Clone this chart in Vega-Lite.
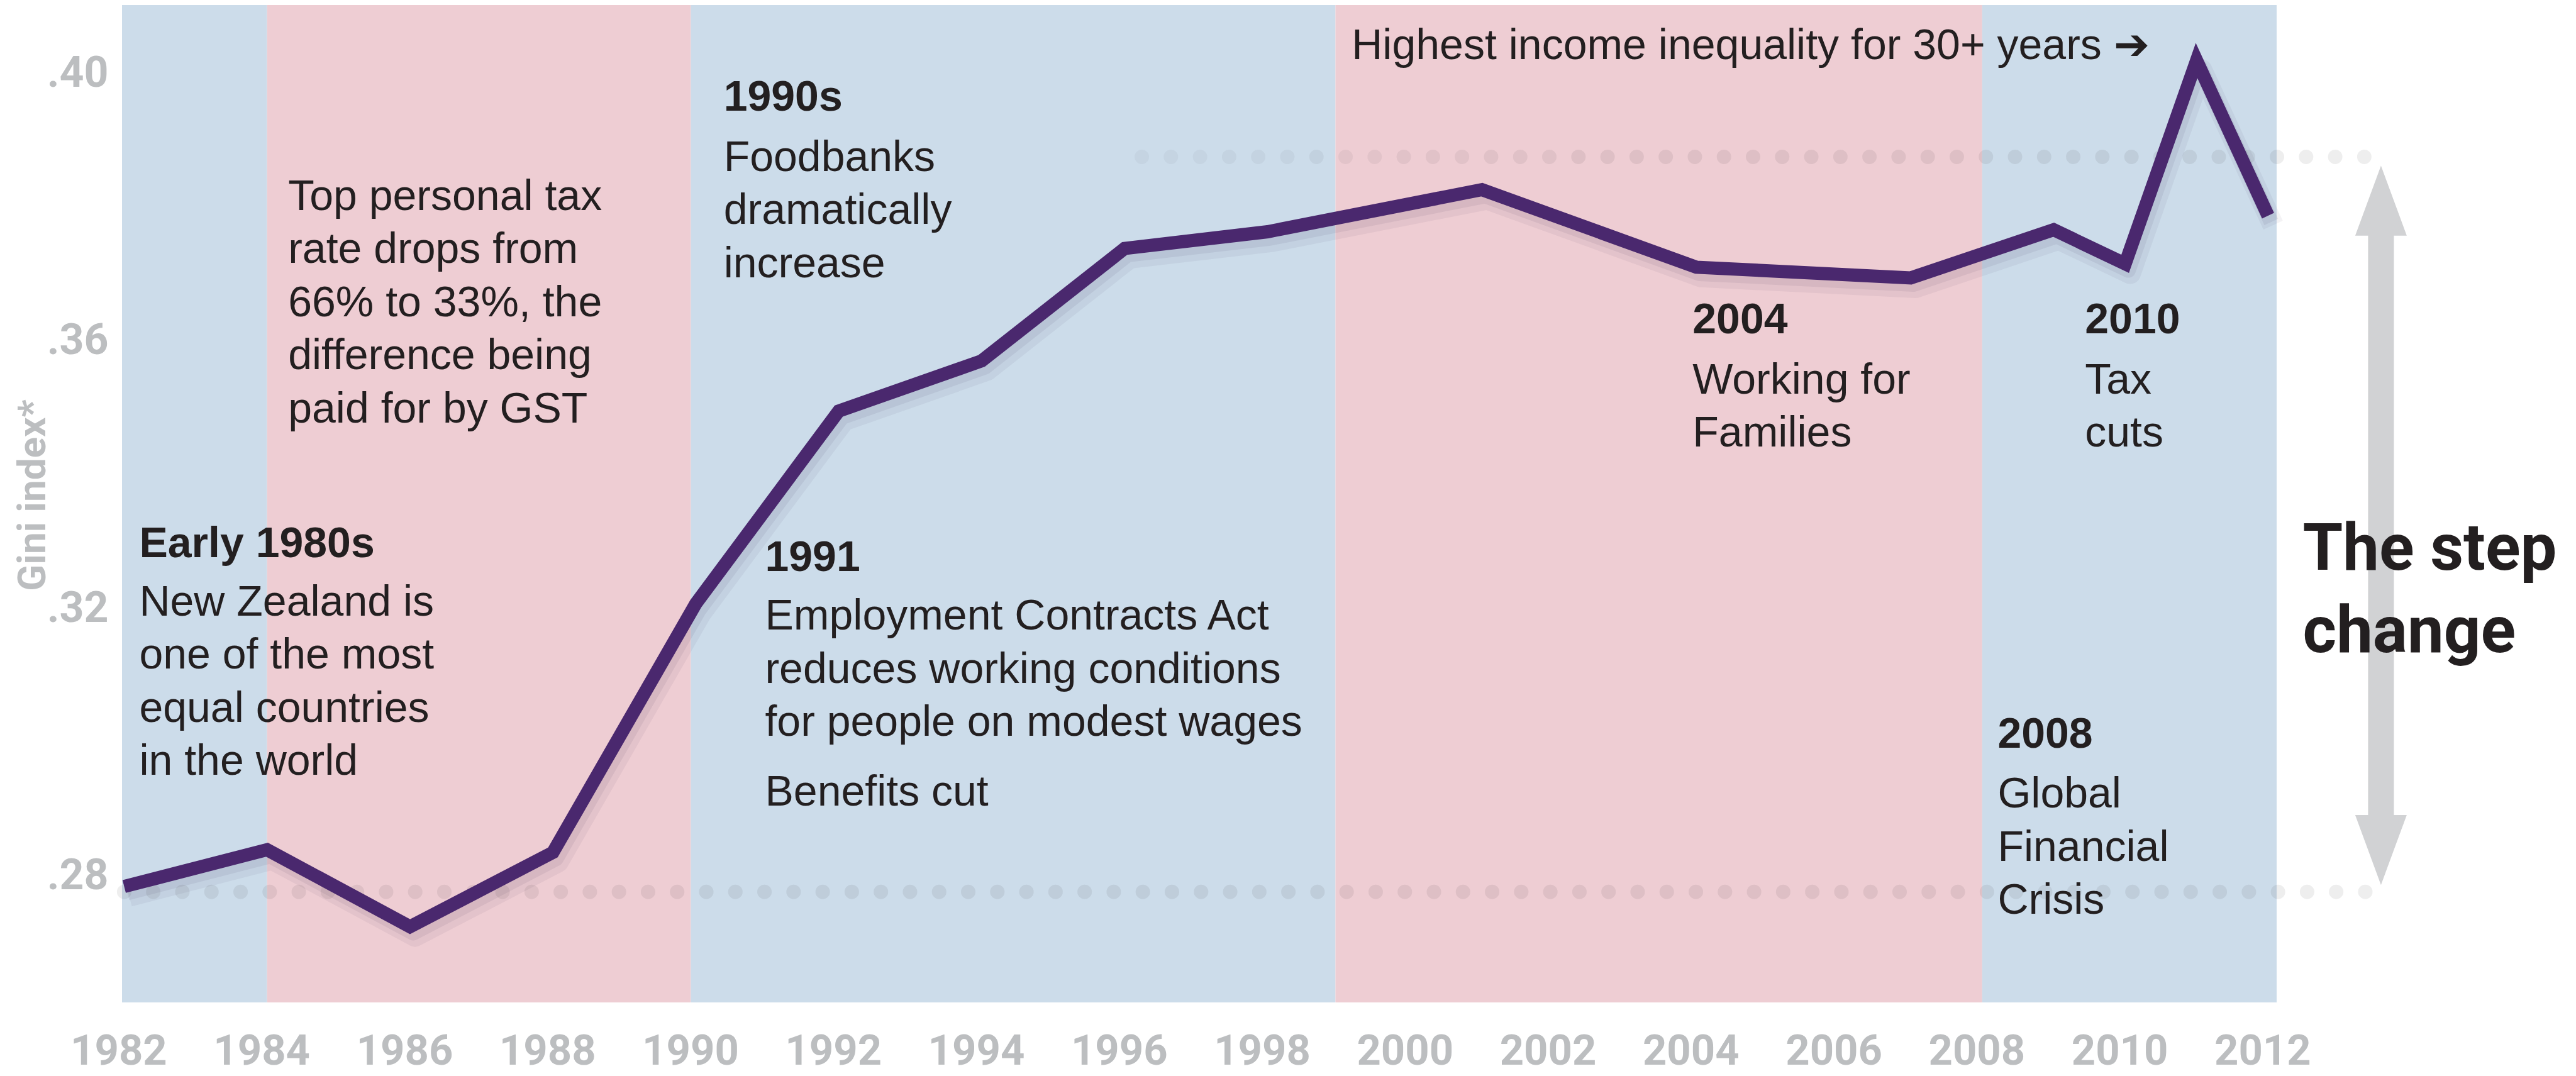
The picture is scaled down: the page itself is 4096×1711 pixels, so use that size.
{
  "$schema": "https://vega.github.io/schema/vega-lite/v6.json",
  "width": 3426,
  "height": 1586,
  "autosize": {"type": "none"},
  "padding": {"left": 194, "top": 8, "right": 476, "bottom": 117},
  "background": "white",
  "config": {"view": {"stroke": null}},
  "datasets": {
    "bands": [
      {"start": 1981.97, "end": 1984, "govt": "National"},
      {"start": 1984, "end": 1989.93, "govt": "Labour"},
      {"start": 1989.93, "end": 1998.95, "govt": "National"},
      {"start": 1998.95, "end": 2008, "govt": "Labour"},
      {"start": 2008, "end": 2012.12, "govt": "National"}
    ],
    "gini": [
      {"year": 1982, "gini": 0.2785},
      {"year": 1984, "gini": 0.2840},
      {"year": 1986, "gini": 0.2725},
      {"year": 1988, "gini": 0.2836},
      {"year": 1990, "gini": 0.3208},
      {"year": 1992, "gini": 0.3496},
      {"year": 1994, "gini": 0.3571},
      {"year": 1996, "gini": 0.3739},
      {"year": 1998, "gini": 0.3764},
      {"year": 2001, "gini": 0.3827},
      {"year": 2004, "gini": 0.3711},
      {"year": 2007, "gini": 0.3695},
      {"year": 2009, "gini": 0.3767},
      {"year": 2010, "gini": 0.3716},
      {"year": 2011, "gini": 0.4020},
      {"year": 2012, "gini": 0.3788}
    ],
    "dots": [
      {"from": 1982, "to": 2013.487, "level": 0.2777, "part": "full"},
      {"from": 1996.240, "to": 1997.457, "level": 0.3876, "part": "f1"},
      {"from": 1997.462, "to": 1998.679, "level": 0.3876, "part": "f2"},
      {"from": 1998.684, "to": 1999.901, "level": 0.3876, "part": "f3"},
      {"from": 1999.906, "to": 2001.123, "level": 0.3876, "part": "f4"},
      {"from": 2001.128, "to": 2002.345, "level": 0.3876, "part": "f5"},
      {"from": 2002.350, "to": 2013.487, "level": 0.3876, "part": "full"}
    ],
    "shaft": [{"x": 2013.58, "top": 0.3810, "bottom": 0.2840}],
    "heads": [
      {"x": 2013.58, "y": 0.38105, "dir": "up"},
      {"x": 2013.58, "y": 0.28397, "dir": "down"}
    ],
    "headings": [
      {"x": 1982.211, "y": 0.32778, "text": "Early 1980s"},
      {"x": 1990.389, "y": 0.39448, "text": "1990s"},
      {"x": 1990.968, "y": 0.32569, "text": "1991"},
      {"x": 2003.947, "y": 0.36117, "text": "2004"},
      {"x": 2009.438, "y": 0.36117, "text": "2010"},
      {"x": 2008.216, "y": 0.29925, "text": "2008"}
    ],
    "notes": [
      {"x": 1984.295, "y": 0.37967, "text": "Top personal tax\nrate drops from\n66% to 33%, the\ndifference being\npaid for by GST"},
      {"x": 1982.211, "y": 0.31900, "text": "New Zealand is\none of the most\nequal countries\nin the world"},
      {"x": 1990.389, "y": 0.38552, "text": "Foodbanks\ndramatically\nincrease"},
      {"x": 1990.968, "y": 0.31690, "text": "Employment Contracts Act\nreduces working conditions\nfor people on modest wages"},
      {"x": 1990.968, "y": 0.29063, "text": "Benefits cut"},
      {"x": 2003.947, "y": 0.35222, "text": "Working for\nFamilies"},
      {"x": 2009.438, "y": 0.35222, "text": "Tax\ncuts"},
      {"x": 2008.216, "y": 0.29029, "text": "Global\nFinancial\nCrisis"},
      {"x": 1999.177, "y": 0.40226, "text": "Highest income inequality for 30+ years ➔"}
    ],
    "big": [
      {"x": 2012.485, "y": 0.32586, "text": "The step\nchange"}
    ]
  },
  "layer": [
    {
      "data": {"name": "bands"},
      "mark": {"type": "rect"},
      "encoding": {
        "x": {"field": "start", "type": "quantitative",
          "scale": {"domain": [1981.97, 2012.12], "nice": false, "zero": false},
          "axis": {
            "values": [1982, 1984, 1986, 1988, 1990, 1992, 1994, 1996, 1998, 2000, 2002, 2004, 2006, 2008, 2010, 2012],
            "format": "d", "title": null, "domain": false, "ticks": false, "tickSize": 0, "grid": false,
            "labelFont": "Roboto, sans-serif",
            "labelFontSize": 67, "labelFontWeight": "bold", "labelColor": "#bcbec0",
            "labelPadding": 98, "labelBaseline": "alphabetic", "labelOffset": -9, "labelLimit": 0,
            "labelFlush": false, "labelOverlap": false, "labelBound": false
          }
        },
        "x2": {"field": "end"},
        "color": {"field": "govt", "type": "nominal",
          "scale": {"domain": ["National", "Labour"], "range": ["#ccdcea", "#eecdd3"]},
          "legend": null}
      }
    },
    {
      "data": {"name": "dots"},
      "mark": {"type": "rule", "color": "#262628", "strokeWidth": 23, "strokeCap": "round", "strokeDash": [0.01, 46.27]},
      "encoding": {
        "x": {"field": "from", "type": "quantitative", "scale": {"domain": [1981.97, 2012.12], "nice": false, "zero": false}},
        "x2": {"field": "to"},
        "y": {"field": "level", "type": "quantitative",
          "scale": {"domain": [0.26117, 0.4103], "nice": false, "zero": false},
          "axis": {
            "values": [0.28, 0.32, 0.36, 0.40],
            "labelExpr": "replace(format(datum.value, '.2f'), '0.', '.')",
            "domain": false, "ticks": false, "tickSize": 0, "grid": false,
            "labelFont": "Roboto, sans-serif", "labelLimit": 0,
            "labelFontSize": 68, "labelFontWeight": "bold", "labelColor": "#bcbec0",
            "labelPadding": 22, "labelBaseline": "middle",
            "title": "Gini index*", "titleX": -123, "titleY": 779, "titleAngle": 270,
            "titleAlign": "center", "titleBaseline": "alphabetic", "titleLimit": 0,
            "titleFont": "Roboto, sans-serif",
            "titleFontSize": 62, "titleFontWeight": "bold", "titleColor": "#bcbec0"
          }
        },
        "opacity": {"field": "part", "type": "nominal",
          "scale": {"domain": ["f1", "f2", "f3", "f4", "f5", "full"], "range": [0.04, 0.08, 0.13, 0.18, 0.22, 0.26]},
          "legend": null}
      }
    },
    {
      "data": {"name": "gini"},
      "mark": {"type": "line", "color": "#2a1a40", "opacity": 0.05, "strokeWidth": 34, "strokeJoin": "round", "xOffset": 8, "yOffset": 15},
      "encoding": {
        "x": {"field": "year", "type": "quantitative", "scale": {"domain": [1981.97, 2012.12], "nice": false, "zero": false}},
        "y": {"field": "gini", "type": "quantitative", "scale": {"domain": [0.26117, 0.4103], "nice": false, "zero": false}}
      }
    },
    {
      "data": {"name": "gini"},
      "mark": {"type": "line", "color": "#2a1a40", "opacity": 0.07, "strokeWidth": 24, "strokeJoin": "round", "xOffset": 5, "yOffset": 10},
      "encoding": {
        "x": {"field": "year", "type": "quantitative", "scale": {"domain": [1981.97, 2012.12], "nice": false, "zero": false}},
        "y": {"field": "gini", "type": "quantitative", "scale": {"domain": [0.26117, 0.4103], "nice": false, "zero": false}}
      }
    },
    {
      "data": {"name": "gini"},
      "mark": {"type": "line", "color": "#4a286e", "strokeWidth": 21, "strokeJoin": "miter", "strokeMiterLimit": 10, "strokeCap": "butt"},
      "encoding": {
        "x": {"field": "year", "type": "quantitative", "scale": {"domain": [1981.97, 2012.12], "nice": false, "zero": false}},
        "y": {"field": "gini", "type": "quantitative", "scale": {"domain": [0.26117, 0.4103], "nice": false, "zero": false}}
      }
    },
    {
      "data": {"name": "shaft"},
      "mark": {"type": "rule", "color": "#d1d2d4", "strokeWidth": 41},
      "encoding": {
        "x": {"field": "x", "type": "quantitative", "scale": {"domain": [1981.97, 2012.12], "nice": false, "zero": false}},
        "y": {"field": "top", "type": "quantitative", "scale": {"domain": [0.26117, 0.4103], "nice": false, "zero": false}},
        "y2": {"field": "bottom"}
      }
    },
    {
      "data": {"name": "heads"},
      "mark": {"type": "point", "filled": true, "color": "#d1d2d4", "opacity": 1, "size": 12377, "strokeWidth": 0},
      "encoding": {
        "x": {"field": "x", "type": "quantitative", "scale": {"domain": [1981.97, 2012.12], "nice": false, "zero": false}},
        "y": {"field": "y", "type": "quantitative", "scale": {"domain": [0.26117, 0.4103], "nice": false, "zero": false}},
        "shape": {"field": "dir", "type": "nominal",
          "scale": {"domain": ["up", "down"], "range": ["M0,-1L0.737,1L-0.737,1Z", "M0,1L0.737,-1L-0.737,-1Z"]},
          "legend": null}
      }
    },
    {
      "data": {"name": "headings"},
      "mark": {"type": "text", "align": "left", "baseline": "alphabetic", "font": "Liberation Sans, Arial, sans-serif", "fontSize": 68, "fontWeight": "bold", "color": "#231f20"},
      "encoding": {
        "x": {"field": "x", "type": "quantitative", "scale": {"domain": [1981.97, 2012.12], "nice": false, "zero": false}},
        "y": {"field": "y", "type": "quantitative", "scale": {"domain": [0.26117, 0.4103], "nice": false, "zero": false}},
        "text": {"field": "text"}
      }
    },
    {
      "data": {"name": "notes"},
      "mark": {"type": "text", "align": "left", "baseline": "alphabetic", "lineBreak": "\n", "lineHeight": 84.5, "font": "Liberation Sans, Arial, sans-serif", "fontSize": 68, "color": "#231f20"},
      "encoding": {
        "x": {"field": "x", "type": "quantitative", "scale": {"domain": [1981.97, 2012.12], "nice": false, "zero": false}},
        "y": {"field": "y", "type": "quantitative", "scale": {"domain": [0.26117, 0.4103], "nice": false, "zero": false}},
        "text": {"field": "text"}
      }
    },
    {
      "data": {"name": "big"},
      "mark": {"type": "text", "align": "left", "baseline": "alphabetic", "lineBreak": "\n", "lineHeight": 131, "font": "Roboto, sans-serif", "fontSize": 103, "fontWeight": "bold", "color": "#231f20"},
      "encoding": {
        "x": {"field": "x", "type": "quantitative", "scale": {"domain": [1981.97, 2012.12], "nice": false, "zero": false}},
        "y": {"field": "y", "type": "quantitative", "scale": {"domain": [0.26117, 0.4103], "nice": false, "zero": false}},
        "text": {"field": "text"}
      }
    }
  ]
}
